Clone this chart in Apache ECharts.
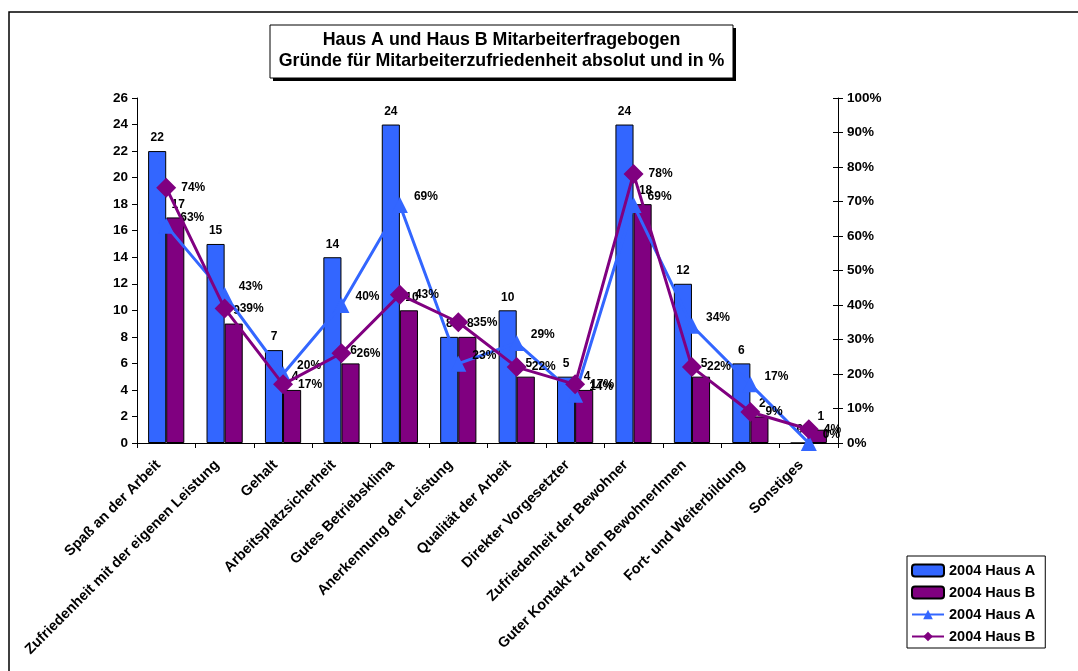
<!DOCTYPE html>
<html>
<head>
<meta charset="utf-8">
<script src="https://cdn.jsdelivr.net/npm/echarts@6/dist/echarts.min.js"></script>
<style>
  html, body { margin: 0; padding: 0; background: #fff; }
  #chart { width: 1078px; height: 671px; }
</style>
</head>
<body>
<div id="chart"></div>
<script>
// Gründe für Mitarbeiterzufriedenheit, Haus A und Haus B (2004)
const categories = [
  'Spaß an der Arbeit',
  'Zufriedenheit mit der eigenen Leistung',
  'Gehalt',
  'Arbeitsplatzsicherheit',
  'Gutes Betriebsklima',
  'Anerkennung der Leistung',
  'Qualität der Arbeit',
  'Direkter Vorgesetzter',
  'Zufriedenheit der Bewohner',
  'Guter Kontakt zu den BewohnerInnen',
  'Fort- und Weiterbildung',
  'Sonstiges'
];
// absolute Nennungen
const hausAAbs = [22, 15, 7, 14, 24, 8, 10, 5, 24, 12, 6, 0];
const hausBAbs = [17, 9, 4, 6, 10, 8, 5, 4, 18, 5, 2, 1];
// Anteile in Prozent
const hausAPct = [63, 43, 20, 40, 69, 23, 29, 14, 69, 34, 17, 0];
const hausBPct = [74, 39, 17, 26, 43, 35, 22, 17, 78, 22, 9, 4];

const blue = '#3366FF';
const purple = '#800080';
const font = 'Arial, "Liberation Sans", sans-serif';

const chart = echarts.init(document.getElementById('chart'));

const labelBase = { show: true, color: '#000', fontFamily: font, fontWeight: 'bold', fontSize: 12 };

chart.setOption({
  animation: false,
  backgroundColor: '#fff',
  textStyle: { fontFamily: font },
  graphic: [{
    // outer frame
    type: 'rect',
    shape: { x: 9, y: 12, width: 1100, height: 700 },
    style: { fill: 'none', stroke: '#000', lineWidth: 1.5 },
    z: -1
  }, {
    // title box: hard drop shadow, then the framed box
    type: 'rect',
    shape: { x: 273, y: 28, width: 463, height: 53 },
    style: { fill: '#000' },
    z: 1
  }, {
    type: 'rect',
    shape: { x: 270, y: 25, width: 463, height: 53 },
    style: { fill: '#fff', stroke: '#000', lineWidth: 1 },
    z: 2
  }],
  title: {
    text: 'Haus A und Haus B Mitarbeiterfragebogen\nGründe für Mitarbeiterzufriedenheit absolut und in %',
    left: 501.5,
    textAlign: 'center',
    top: 25,
    padding: [5, 0, 0, 0],
    z: 10,
    textStyle: {
      fontFamily: font, fontWeight: 'bold', fontSize: 17.8, color: '#000',
      lineHeight: 21
    }
  },
  legend: {
    orient: 'vertical',
    left: 907,
    top: 556,
    padding: [7, 6, 4, 4],
    itemGap: 7,
    itemWidth: 32,
    itemHeight: 12,
    borderColor: '#000',
    borderWidth: 1,
    backgroundColor: '#fff',
    textStyle: { fontFamily: font, fontWeight: 'bold', fontSize: 14.5, color: '#000' },
    data: ['2004 Haus A', '2004 Haus B', '2004 Haus A ', '2004 Haus B ']
  },
  grid: { left: 137, right: 240, top: 98, bottom: 228 },
  xAxis: {
    type: 'category',
    data: categories,
    axisLine: { lineStyle: { color: '#000', width: 1 } },
    axisTick: { show: true, interval: 0, length: 5, lineStyle: { color: '#000' } },
    axisLabel: {
      interval: 0, rotate: 45, color: '#000', fontFamily: font,
      fontWeight: 'bold', fontSize: 14.5, margin: 12, padding: [0, 11, 0, 0]
    }
  },
  yAxis: [{
    type: 'value',
    min: 0, max: 26, interval: 2,
    position: 'left',
    axisLine: { show: true, lineStyle: { color: '#000' } },
    axisTick: { show: true, length: 5, lineStyle: { color: '#000' } },
    splitLine: { show: false },
    axisLabel: { color: '#000', fontFamily: font, fontWeight: 'bold', fontSize: 13.5, margin: 9 }
  }, {
    type: 'value',
    min: 0, max: 100, interval: 10,
    position: 'right',
    axisLine: { show: true, lineStyle: { color: '#000' } },
    axisTick: { show: true, length: 5, lineStyle: { color: '#000' } },
    splitLine: { show: false },
    axisLabel: { formatter: '{value}%', color: '#000', fontFamily: font, fontWeight: 'bold', fontSize: 13.5, margin: 9 }
  }, {
    // inner half of the crossing ticks on the percent axis
    type: 'value',
    min: 0, max: 100, interval: 10,
    position: 'right',
    axisLine: { show: false },
    axisTick: { show: true, inside: true, length: 5, lineStyle: { color: '#000' } },
    axisLabel: { show: false },
    splitLine: { show: false }
  }],
  series: [{
    name: '2004 Haus A',
    type: 'bar',
    data: hausAAbs,
    barGap: '0%',
    barCategoryGap: '38%',
    itemStyle: { color: blue, borderColor: '#000', borderWidth: 1 },
    label: Object.assign({ position: 'top', distance: 7 }, labelBase)
  }, {
    name: '2004 Haus B',
    type: 'bar',
    data: hausBAbs,
    itemStyle: { color: purple, borderColor: '#000', borderWidth: 1 },
    label: Object.assign({ position: 'top', distance: 7, offset: [3, 0] }, labelBase)
  }, {
    name: '2004 Haus A ',
    type: 'line',
    yAxisIndex: 1,
    data: hausAPct,
    symbol: 'triangle',
    symbolSize: 16,
    lineStyle: { color: blue, width: 3 },
    itemStyle: { color: blue },
    label: Object.assign({ position: 'right', distance: 6, offset: [0, -8], formatter: '{c}%' }, labelBase),
    z: 3
  }, {
    name: '2004 Haus B ',
    type: 'line',
    yAxisIndex: 1,
    data: hausBPct,
    symbol: 'diamond',
    symbolSize: 20,
    lineStyle: { color: purple, width: 3 },
    itemStyle: { color: purple },
    label: Object.assign({ position: 'right', distance: 5, formatter: '{c}%' }, labelBase),
    z: 4
  }]
});
</script>
</body>
</html>
